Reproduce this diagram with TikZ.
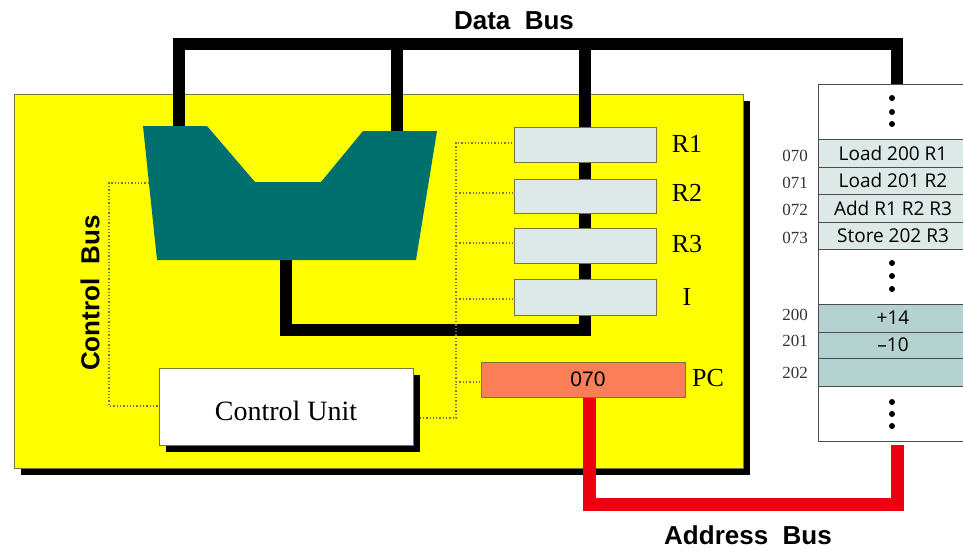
\documentclass[tikz,border=0pt]{standalone}
\usepackage{fontspec}
\setmainfont{Liberation Serif}
\setsansfont{Liberation Sans}
\newfontfamily\memfont{Open Sans}
\usetikzlibrary{shadows}

\definecolor{boardyellow}{HTML}{FFFF00}
\definecolor{aluteal}{HTML}{00706F}
\definecolor{regfill}{HTML}{DDE8E8}
\definecolor{pcfill}{HTML}{FA7F58}
\definecolor{codefill}{HTML}{DCE9E6}
\definecolor{datafill}{HTML}{B4D3D0}
\definecolor{olive}{HTML}{77773A}
\definecolor{busred}{HTML}{EC0010}

\pgfdeclarelayer{board}
\pgfdeclarelayer{bus}
\pgfsetlayers{board, bus, main}

\tikzset{
  box/.style = {inner sep = 0, outer sep = 0, draw = olive, line width = .8pt},
  solidshadow/.style = {drop shadow = {shadow xshift = #1, shadow yshift = -#1,
      fill = black, opacity = 1}},
  regbox/.style = {box, fill = regfill, minimum width = 142},
  memrow/.style = {inner sep = 0, outer sep = 0, draw = black!70, line width = .8pt,
      minimum width = 150, font = \memfont\fontsize{19}{21}\selectfont},
  coderow/.style = {memrow, fill = codefill},
  datarow/.style = {memrow, fill = datafill},
  reglabel/.style = {font = \fontsize{26}{28}\selectfont},
  addrlabel/.style = {font = \fontsize{17}{19}\selectfont, text = black!80},
  buslabel/.style = {font = \sffamily\bfseries\fontsize{26}{28}\selectfont},
  bus/.style = {line width = 12pt, miter limit = 10},
  ctrl/.style = {dotted, draw = olive, line width = 1.3pt}
}

\begin{document}
\begin{tikzpicture}[x = 1pt, y = -1pt]
  \useasboundingbox (0, 0) rectangle (963, 549);

  \coordinate (aluin1) at (179, 128);
  \coordinate (aluin2) at (397, 133);
  \coordinate (aluout) at (286, 258);
  \coordinate (aluside) at (149, 183);
  \coordinate (pcout) at (589, 395);
  \coordinate (memtop) at (897, 85);
  \coordinate (membottom) at (897, 445);

  \begin{pgfonlayer}{board}
    \node[box, fill = boardyellow, minimum width = 729, minimum height = 374,
    solidshadow = 7pt] (board) at (378.5, 281) {};
  \end{pgfonlayer}

  \fill[aluteal] (143, 126) -- (207, 126) -- (255, 182) -- (321, 182) -- (363, 131)
  -- (437, 131) -- (416, 260) -- (157, 260) -- cycle;

  \node[box, fill = white, minimum width = 254, minimum height = 77, solidshadow = 7pt,
  text height = 27pt, text depth = 0pt, font = \fontsize{28}{30}\selectfont] (control)
  at (286, 406.5) {Control Unit};

  \node[regbox, minimum height = 35] (rone) at (585, 144.5) {};
  \node[regbox, minimum height = 34] (rtwo) at (585, 196) {};
  \node[regbox, minimum height = 35] (rthree) at (585, 245.5) {};
  \node[regbox, minimum height = 36] (rins) at (585, 297) {};
  \node[box, fill = pcfill, minimum width = 204, minimum height = 35,
  font = \sffamily\fontsize{21}{23}\selectfont] (pc) at (583, 379.5) {\hspace{10pt}070};

  \node[reglabel] (lone) at (687, 144) {R1};
  \node[reglabel] (ltwo) at (687, 193) {R2};
  \node[reglabel] (lthree) at (687, 244) {R3};
  \node[reglabel] (lins) at (687, 297) {I};
  \node[reglabel] (lpc) at (708, 378) {PC};

  \node[memrow, fill = white, minimum height = 357] (memory) at (893, 262.5) {};
  \node[coderow, minimum height = 28] (mem70) at (893, 153) {Load 200 R1};
  \node[coderow, minimum height = 27] (mem71) at (893, 180.5) {Load 201 R2};
  \node[coderow, minimum height = 28] (mem72) at (893, 208) {Add R1 R2 R3};
  \node[coderow, minimum height = 27] (mem73) at (893, 235.5) {Store 202 R3};
  \node[datarow, minimum height = 28] (mem200) at (893, 318) {+14};
  \node[datarow, minimum height = 26] (mem201) at (893, 345) {–10};
  \node[datarow, minimum height = 28] (mem202) at (893, 372) {};

  \node[addrlabel] (a70) at (795, 156) {070};
  \node[addrlabel] (a71) at (795, 183) {071};
  \node[addrlabel] (a72) at (795, 210) {072};
  \node[addrlabel] (a73) at (795, 238) {073};
  \node[addrlabel] (a200) at (795, 315) {200};
  \node[addrlabel] (a201) at (795, 341) {201};
  \node[addrlabel] (a202) at (795, 373) {202};

  \fill (892, 98) circle[radius = 3];
  \fill (892, 112) circle[radius = 3];
  \fill (892, 124) circle[radius = 3];
  \fill (892, 263) circle[radius = 3];
  \fill (892, 276) circle[radius = 3];
  \fill (892, 289) circle[radius = 3];
  \fill (892, 402) circle[radius = 3];
  \fill (892, 414) circle[radius = 3];
  \fill (892, 426) circle[radius = 3];

  \node[buslabel] (databus) at (514, 21) {Data\ \ Bus};
  \node[buslabel] (addressbus) at (748, 535) {Address\ \ Bus};
  \node[buslabel, rotate = 90] (controlbus) at (90, 293) {Control\ \ Bus};

  \begin{pgfonlayer}{bus}
    \draw[bus] (aluin1) -- (aluin1 |- 0, 44) -- (memtop |- 0, 44) -- (memtop);
    \draw[bus] (aluin2) -- (aluin2 |- 0, 44);
    \draw[bus] (rone.center) -- (rone.center |- 0, 44);
    \draw[bus] (aluout) -- (aluout |- 0, 330) -- (rins.center |- 0, 330) -- (rone.center);
    \draw[bus, busred, line width = 13pt] (pcout) -- (pcout |- 0, 504)
    -- (membottom |- 0, 504) -- (membottom);

    \draw[ctrl] (aluside) -- (109, 183) -- (109, 406) -- (control.west |- 0, 406);
    \draw[ctrl] (control.east |- 0, 418) -- (456, 418) -- (456, 143) -- (rone.west |- 0, 143);
    \draw[ctrl] (456, 193) -- (rtwo.west |- 0, 193);
    \draw[ctrl] (456, 243) -- (rthree.west |- 0, 243);
    \draw[ctrl] (456, 299) -- (rins.west |- 0, 299);
    \draw[ctrl] (456, 382) -- (pc.west |- 0, 382);
  \end{pgfonlayer}
\end{tikzpicture}
\end{document}
